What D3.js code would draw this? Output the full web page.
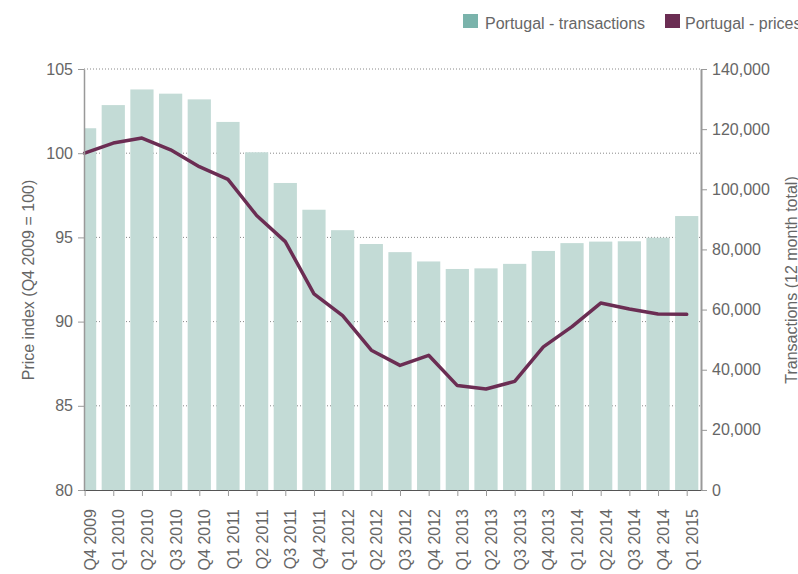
<!DOCTYPE html>
<html>
<head>
<meta charset="utf-8">
<script src="https://cdn.jsdelivr.net/npm/d3@7"></script>
<style>
  html, body { margin: 0; padding: 0; background: #fff; }
  svg { display: block; font-family: "Liberation Sans", Arial, Helvetica, sans-serif; }
</style>
</head>
<body>
<script>
const categories = ["Q4 2009","Q1 2010","Q2 2010","Q3 2010","Q4 2010","Q1 2011","Q2 2011","Q3 2011","Q4 2011","Q1 2012","Q2 2012","Q3 2012","Q4 2012","Q1 2013","Q2 2013","Q3 2013","Q4 2013","Q1 2014","Q2 2014","Q3 2014","Q4 2014","Q1 2015"];
const transactions = [120300,128000,133200,131800,129900,122400,112300,102100,93200,86400,81800,79100,76000,73500,73700,75200,79500,82100,82600,82700,83900,91100];
const prices = [100.0,100.6,100.9,100.2,99.2,98.45,96.3,94.75,91.65,90.35,88.3,87.4,88.0,86.2,86.0,86.45,88.5,89.7,91.1,90.75,90.45,90.43];
const leftTicks = [80,85,90,95,100,105];
const rightTicks = [0,20000,40000,60000,80000,100000,120000,140000];
const seriesNames = ["Portugal - transactions","Portugal - prices"];

const W = 798, H = 574;
const plot = {left: 84, right: 701, top: 69, bottom: 490};
const barColor = "#c3dbd6", swatchBar = "#7ab3ab", lineColor = "#6b2d53", textColor = "#666";

const svg = d3.select("body").append("svg").attr("width", W).attr("height", H);

const x = d3.scalePoint().domain(categories).range([84.6, 686.7]);
const yL = d3.scaleLinear().domain([80,105]).range([plot.bottom, plot.top]);
const yR = d3.scaleLinear().domain([0,140000]).range([plot.bottom, plot.top]);
const bw = x.step() * 0.81;

svg.append("defs").append("clipPath").attr("id","pc")
  .append("rect").attr("x", plot.left + 1).attr("y", 0).attr("width", plot.right - plot.left).attr("height", plot.bottom);

// gridlines
svg.append("g").selectAll("line").data(leftTicks.filter(d => d > 80)).join("line")
  .attr("x1", plot.left).attr("x2", plot.right)
  .attr("y1", d => yL(d)).attr("y2", d => yL(d))
  .attr("stroke", "#888").attr("stroke-width", 1).attr("stroke-dasharray", "1,2");

// bars
svg.append("g").attr("clip-path","url(#pc)").selectAll("rect").data(categories).join("rect")
  .attr("x", d => x(d) - bw/2)
  .attr("width", bw)
  .attr("y", (d,i) => yR(transactions[i]))
  .attr("height", (d,i) => yR(0) - yR(transactions[i]))
  .attr("fill", barColor);

// line
const line = d3.line().x((d,i) => x(categories[i])).y(d => yL(d));
svg.append("path").datum(prices).attr("d", line)
  .attr("fill","none").attr("stroke", lineColor).attr("stroke-width", 3.5)
  .attr("stroke-linejoin","round").attr("stroke-linecap","round");

function styleAxis(g, domainColor, w) {
  g.selectAll(".domain").attr("stroke", domainColor).attr("stroke-width", w);
  g.selectAll(".tick line").attr("stroke", "#999");
  g.selectAll(".tick text").attr("fill", textColor).style("font-size","16px")
    .style("font-family", '"Liberation Sans", Arial, sans-serif');
}

// left axis
const gL = svg.append("g").attr("transform", `translate(${plot.left},0)`)
  .call(d3.axisLeft(yL).tickValues(leftTicks).tickSize(6).tickSizeOuter(0).tickPadding(5));
styleAxis(gL, "#999", 1.5);

// right axis
const gR = svg.append("g").attr("transform", `translate(${plot.right},0)`)
  .call(d3.axisRight(yR).tickValues(rightTicks).tickFormat(d3.format(",")).tickSize(6).tickSizeOuter(0).tickPadding(5));
styleAxis(gR, "#999", 2);

// bottom axis
const gB = svg.append("g").attr("transform", `translate(0,${plot.bottom})`)
  .call(d3.axisBottom(x).tickSize(6).tickSizeOuter(0).tickPadding(5));
gB.select(".domain").attr("d", `M${plot.left},0.5H${plot.right}`);
styleAxis(gB, "#555", 1.2);
gB.selectAll(".tick text")
  .attr("x", 0).attr("y", 0).attr("dy", 0)
  .attr("transform", "translate(10.5,19) rotate(-90)")
  .style("text-anchor", "end");

// axis titles
svg.append("text").attr("transform", "translate(33.5,280) rotate(-90)")
  .attr("text-anchor","middle").attr("fill", textColor).style("font-size","16px")
  .text("Price index (Q4 2009 = 100)");
svg.append("text").attr("transform", "translate(797,280) rotate(-90)")
  .attr("text-anchor","middle").attr("fill", textColor).style("font-size","16px")
  .text("Transactions (12 month total)");

// legend
const legend = [
  {name: seriesNames[0], color: swatchBar, sx: 463, tx: 485},
  {name: seriesNames[1], color: lineColor, sx: 665, tx: 685}
];
const lg = svg.append("g").selectAll("g").data(legend).join("g");
lg.append("rect").attr("x", d => d.sx).attr("y", 14).attr("width", 15).attr("height", 14).attr("fill", d => d.color);
lg.append("text").attr("x", d => d.tx).attr("y", 29).attr("fill", textColor).style("font-size","16px").text(d => d.name);
</script>
</body>
</html>
